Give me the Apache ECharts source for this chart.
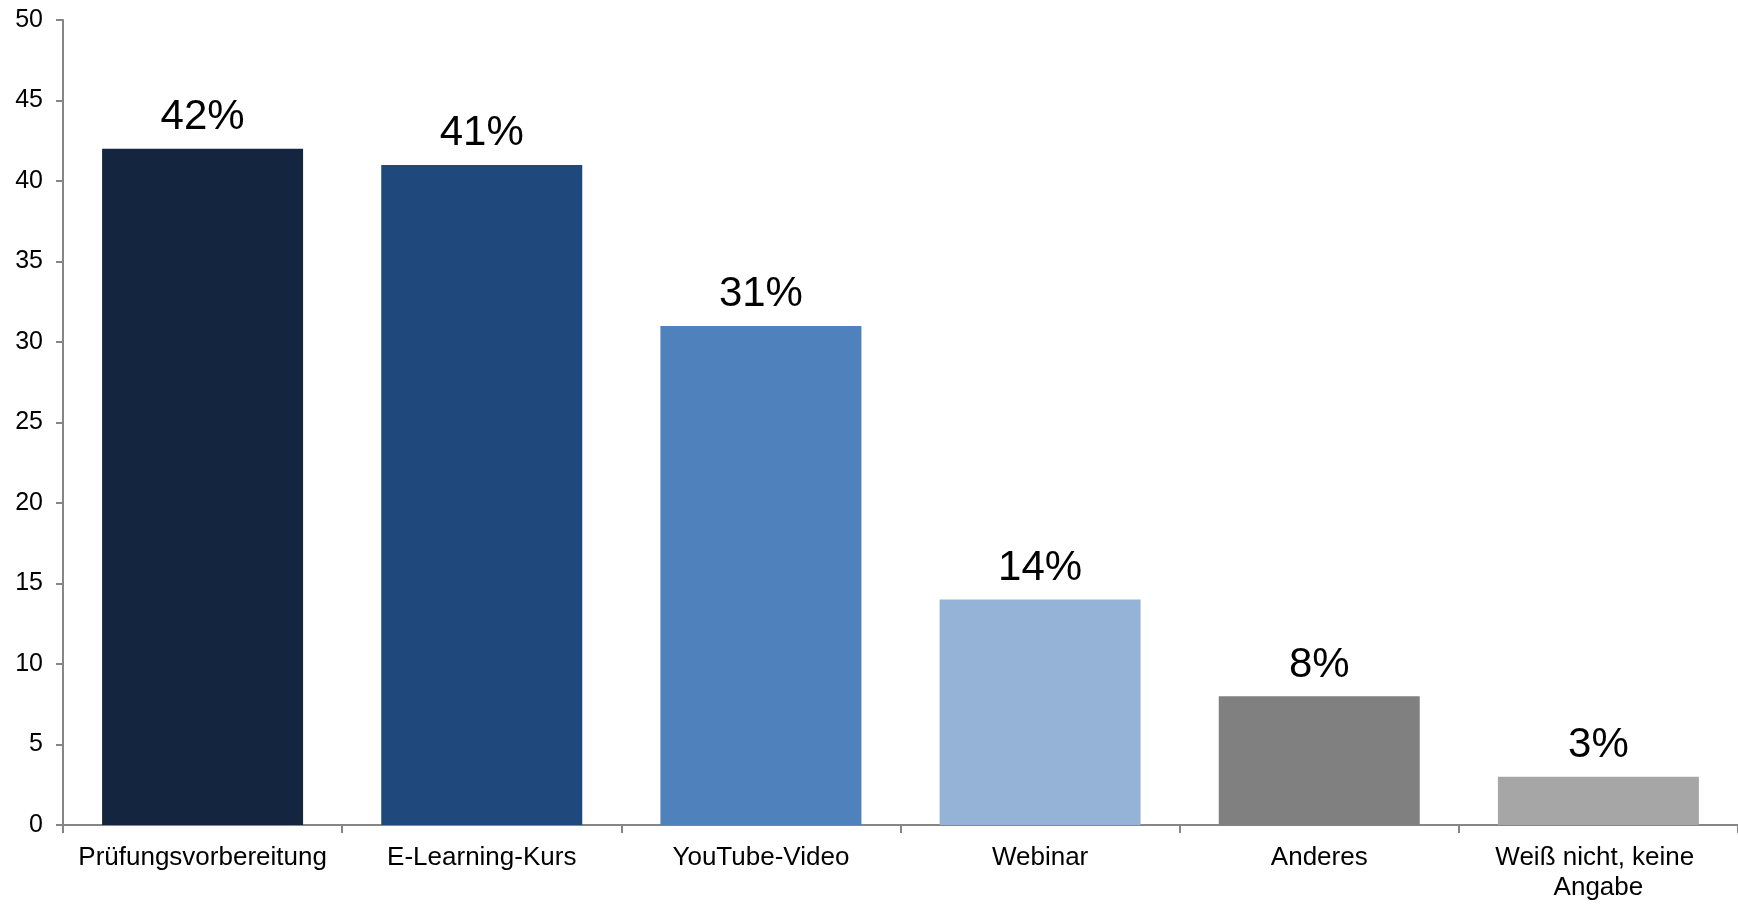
<!DOCTYPE html>
<html>
<head>
<meta charset="utf-8">
<title>Formate</title>
<script src="https://cdn.jsdelivr.net/npm/echarts@6/dist/echarts.min.js"></script>
<style>
  html, body { margin: 0; padding: 0; background: #ffffff; }
  #chart { width: 1738px; height: 904px; }
</style>
</head>
<body>
<div id="chart"></div>
<script>
// Answer categories and shares (in percent)
const categories = [
  'Prüfungsvorbereitung',
  'E-Learning-Kurs',
  'YouTube-Video',
  'Webinar',
  'Anderes',
  'Weiß nicht, keine Angabe'
];
const values = [42, 41, 31, 14, 8, 3];
const barColors = ['#14263f', '#1f497d', '#4f81bd', '#95b3d7', '#808080', '#a6a6a6'];

const yMin = 0;
const yMax = 50;
const yStep = 5;

const FONT = '"Liberation Sans", Arial, sans-serif';
const AXIS_GREY = '#868686';

const chart = echarts.init(document.getElementById('chart'), null, { renderer: 'canvas' });

chart.setOption({
  backgroundColor: '#ffffff',
  animation: false,
  grid: { left: 63, right: 0, top: 20, bottom: 79, containLabel: false },
  xAxis: {
    type: 'category',
    data: categories,
    axisLine: { show: true, lineStyle: { color: AXIS_GREY, width: 2 } },
    axisTick: { show: true, alignWithLabel: false, length: 8, inside: false,
                lineStyle: { color: AXIS_GREY, width: 2 } },
    axisLabel: {
      interval: 0,
      color: '#000000',
      fontFamily: FONT,
      fontSize: 26,
      lineHeight: 30,
      margin: 18,
      width: 266,
      overflow: 'break',
      align: 'center'
    }
  },
  yAxis: {
    type: 'value',
    min: yMin,
    max: yMax,
    interval: yStep,
    axisLine: { show: true, lineStyle: { color: AXIS_GREY, width: 2 } },
    axisTick: { show: true, length: 7, inside: false, lineStyle: { color: AXIS_GREY, width: 2 } },
    splitLine: { show: false },
    axisLabel: { color: '#000000', fontFamily: FONT, fontSize: 25, margin: 20 }
  },
  series: [{
    type: 'bar',
    data: values.map((v, i) => ({ value: v, itemStyle: { color: barColors[i] } })),
    barWidth: '72%',
    label: {
      show: true,
      position: 'top',
      distance: 10,
      formatter: '{c}%',
      color: '#000000',
      fontFamily: FONT,
      fontSize: 42
    }
  }]
});
</script>
</body>
</html>
